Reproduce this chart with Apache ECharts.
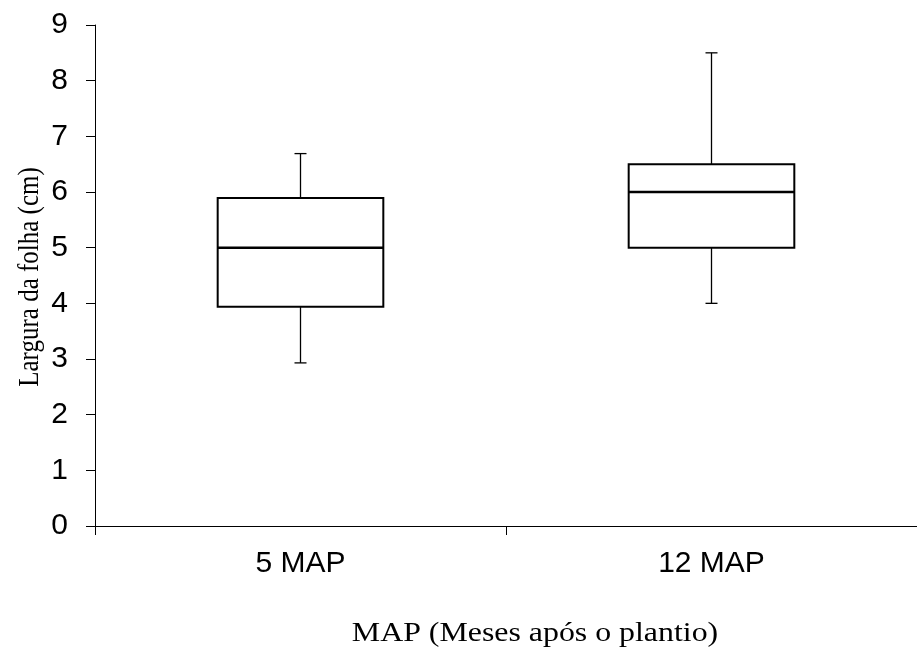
<!DOCTYPE html>
<html>
<head>
<meta charset="utf-8">
<script src="https://cdn.jsdelivr.net/npm/echarts@6/dist/echarts.min.js"></script>
<style>html,body{margin:0;padding:0;background:#fff}#c{width:917px;height:657px}</style>
</head>
<body>
<div id="c"></div>
<script>
var categories = ['5 MAP', '12 MAP'];
var whiskerMin = [2.93, 4.0];
var q1 = [3.94, 5.0];
var median = [5.0, 6.0];
var q3 = [5.89, 6.5];
var whiskerMax = [6.69, 8.5];
var yTicks = [0, 1, 2, 3, 4, 5, 6, 7, 8, 9];
var yTitle = 'Largura da folha (cm)';
var xTitle = 'MAP (Meses após o plantio)';

var data = categories.map(function (c, i) {
  return [i, whiskerMin[i], q1[i], median[i], q3[i], whiskerMax[i]];
});

var chart = echarts.init(document.getElementById('c'));
chart.setOption({
  animation: false,
  backgroundColor: '#fff',
  grid: { left: 95, right: 0, top: 25, bottom: 131 },
  xAxis: {
    type: 'category',
    data: categories,
    boundaryGap: true,
    axisLine: { lineStyle: { color: '#000', width: 1 } },
    axisTick: { show: true, length: 9, lineStyle: { color: '#000' } },
    axisLabel: { color: '#000', fontFamily: 'Liberation Sans', fontSize: 30, margin: 23 },
    splitLine: { show: false }
  },
  yAxis: {
    type: 'value',
    min: yTicks[0],
    max: yTicks[yTicks.length - 1],
    interval: 1,
    axisLine: { show: true, lineStyle: { color: '#000', width: 1 } },
    axisTick: { show: true, length: 9, lineStyle: { color: '#000' } },
    axisLabel: { color: '#000', fontFamily: 'Liberation Sans', fontSize: 30, margin: 27 },
    splitLine: { show: false }
  },
  graphic: [{
    type: 'text',
    x: 535,
    y: 634,
    scaleX: 1.18,
    style: { text: xTitle, fill: '#000', font: '27px "Liberation Serif"', align: 'center', verticalAlign: 'middle' }
  }, {
    type: 'text',
    x: 30,
    y: 277,
    rotation: Math.PI / 2,
    scaleY: 1.18,
    style: { text: yTitle, fill: '#000', font: '25px "Liberation Serif"', align: 'center', verticalAlign: 'middle' }
  }],
  series: [{
    type: 'custom',
    data: data,
    encode: { x: 0, y: [1, 2, 3, 4, 5] },
    renderItem: function (params, api) {
      var idx = api.value(0);
      var pMin = api.coord([idx, api.value(1)]);
      var pQ1 = api.coord([idx, api.value(2)]);
      var pMed = api.coord([idx, api.value(3)]);
      var pQ3 = api.coord([idx, api.value(4)]);
      var pMax = api.coord([idx, api.value(5)]);
      var bw = api.size([1, 0])[0] * 0.403;
      var cx = pMed[0];
      var cap = 6;
      var thin = { stroke: '#000', lineWidth: 1.3 };
      return {
        type: 'group',
        children: [
          { type: 'line', shape: { x1: cx, y1: pMax[1], x2: cx, y2: pQ3[1] }, style: thin },
          { type: 'line', shape: { x1: cx, y1: pQ1[1], x2: cx, y2: pMin[1] }, style: thin },
          { type: 'line', shape: { x1: cx - cap, y1: pMax[1], x2: cx + cap, y2: pMax[1] }, style: thin },
          { type: 'line', shape: { x1: cx - cap, y1: pMin[1], x2: cx + cap, y2: pMin[1] }, style: thin },
          { type: 'rect', shape: { x: cx - bw / 2, y: pQ3[1], width: bw, height: pQ1[1] - pQ3[1] },
            style: { fill: '#fff', stroke: '#000', lineWidth: 2 } },
          { type: 'line', shape: { x1: cx - bw / 2, y1: pMed[1], x2: cx + bw / 2, y2: pMed[1] },
            style: { stroke: '#000', lineWidth: 2.5 } }
        ]
      };
    }
  }]
});
</script>
</body>
</html>
